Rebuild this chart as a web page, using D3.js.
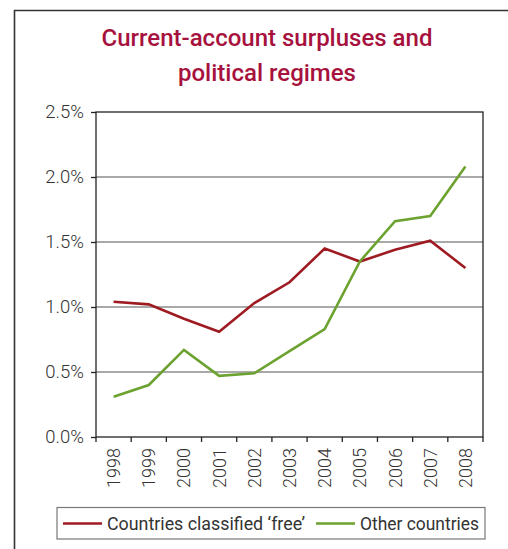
<!DOCTYPE html>
<html>
<head>
<meta charset="utf-8">
<style>
  body { margin:0; background:#fff; }
  svg text { font-family: Roboto, "DejaVu Sans", sans-serif; }
</style>
</head>
<body>
<div id="chart"></div>
<script src="https://cdn.jsdelivr.net/npm/d3@7"></script>
<script>
// data (percent of GDP)
var years = ["1998","1999","2000","2001","2002","2003","2004","2005","2006","2007","2008"];
var free  = [1.04, 1.02, 0.91, 0.81, 1.03, 1.19, 1.45, 1.35, 1.44, 1.51, 1.30];
var other = [0.31, 0.40, 0.67, 0.47, 0.49, 0.66, 0.83, 1.35, 1.66, 1.70, 2.08];
var yTicks = [0, 0.5, 1.0, 1.5, 2.0, 2.5];
var seriesNames = ["Countries classified \u2018free\u2019", "Other countries"];
var seriesColors = ["#9e1b22", "#6ca22f"];

var width = 508, height = 549;
var plotL = 96, plotR = 483, plotT = 112, plotB = 437;

var svg = d3.select('#chart').append('svg')
    .attr('width', width).attr('height', height);

// outer frame (only top and left visible)
svg.append('path')
    .attr('d', 'M14.5,' + height + 'V10.5H' + width)
    .attr('fill', 'none').attr('stroke', '#333').attr('stroke-width', 1.6);

// title
var title = svg.append('text')
    .attr('text-anchor', 'middle')
    .attr('fill', '#a6123d')
    .style('font-size', '24px').style('font-weight', 500);
title.append('tspan').attr('x', 267).attr('y', 46).text('Current-account surpluses and');
title.append('tspan').attr('x', 267).attr('y', 81).text('political regimes');

var x = d3.scaleBand().domain(years).range([plotL, plotR]);
var y = d3.scaleLinear().domain([0, 2.5]).range([plotB, plotT]);

// gridlines
svg.append('g').selectAll('line')
    .data(yTicks.slice(1, -1)).enter().append('line')
    .attr('x1', plotL).attr('x2', plotR)
    .attr('y1', d => y(d)).attr('y2', d => y(d))
    .attr('stroke', '#555').attr('stroke-width', 1.2);

// plot box
svg.append('rect')
    .attr('x', plotL).attr('y', plotT)
    .attr('width', plotR - plotL).attr('height', plotB - plotT)
    .attr('fill', 'none').attr('stroke', '#222').attr('stroke-width', 1.3);

// y axis
var yAxis = svg.append('g')
    .attr('transform', 'translate(' + plotL + ',0)')
    .call(d3.axisLeft(y).tickValues(yTicks).tickSize(5).tickPadding(7)
        .tickFormat(d => d.toFixed(1) + '%'));
yAxis.select('.domain').remove();
yAxis.selectAll('line').attr('stroke', '#222').attr('stroke-width', 1.3);
yAxis.selectAll('text').attr('fill', '#333').style('font-size', '18.5px')
    .style('font-family', 'Roboto, sans-serif').style('font-weight', 300);

// x axis: ticks at band edges
var edges = years.map(d => x(d)).concat([plotR]);
svg.append('g').selectAll('line')
    .data(edges).enter().append('line')
    .attr('x1', d => d).attr('x2', d => d)
    .attr('y1', plotB).attr('y2', plotB + 5)
    .attr('stroke', '#222').attr('stroke-width', 1.3);

svg.append('g').selectAll('text')
    .data(years).enter().append('text')
    .attr('transform', d => 'translate(' + (x(d) + x.bandwidth() / 2 + 6.5) + ',' + (plotB + 11) + ') rotate(-90)')
    .attr('text-anchor', 'end')
    .attr('fill', '#333')
    .style('font-size', '18px').style('font-weight', 300)
    .text(d => d);

// lines
var line = d3.line()
    .x((d, i) => x(years[i]) + x.bandwidth() / 2)
    .y(d => y(d));

[free, other].forEach(function (vals, k) {
    svg.append('path')
        .datum(vals)
        .attr('d', line)
        .attr('fill', 'none')
        .attr('stroke', seriesColors[k])
        .attr('stroke-width', 2.6)
        .attr('stroke-linejoin', 'miter');
});

// legend
var lg = svg.append('g');
lg.append('rect')
    .attr('x', 57).attr('y', 507.5).attr('width', 428).attr('height', 31.5)
    .attr('fill', '#fff').attr('stroke', '#777').attr('stroke-width', 1.2);
var legendX = [63, 316];
seriesNames.forEach(function (name, k) {
    lg.append('line')
        .attr('x1', legendX[k]).attr('x2', legendX[k] + 39)
        .attr('y1', 523.5).attr('y2', 523.5)
        .attr('stroke', seriesColors[k]).attr('stroke-width', 2.6);
    lg.append('text')
        .attr('x', legendX[k] + 44).attr('y', 529.5)
        .attr('fill', '#333')
        .style('font-size', '17.5px').style('font-weight', 400)
        .attr('textLength', k === 0 ? 198 : 119)
        .attr('lengthAdjust', 'spacingAndGlyphs')
        .text(name);
});
</script>
</body>
</html>
